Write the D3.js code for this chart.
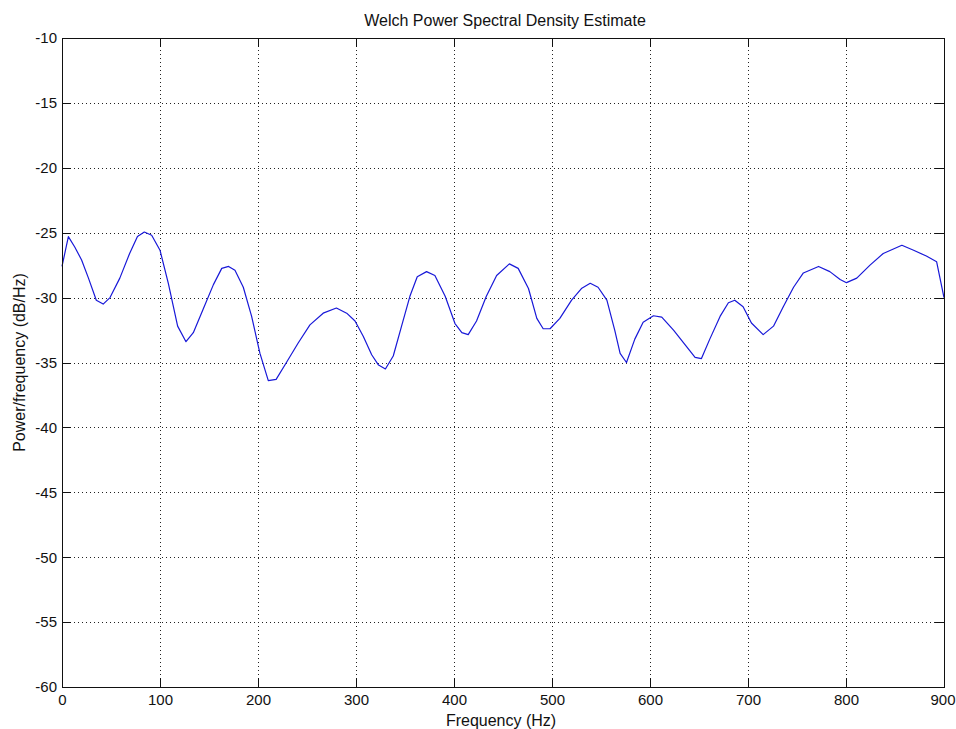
<!DOCTYPE html>
<html>
<head>
<meta charset="utf-8">
<script src="https://cdn.jsdelivr.net/npm/d3@7"></script>
<style>
  html, body { margin: 0; padding: 0; background: #fff; }
  svg { display: block; }
  text { font-family: "Liberation Sans", Arial, Helvetica, sans-serif; fill: #111; }
</style>
</head>
<body>
<svg id="chart" width="956" height="729"></svg>
<script>
// ---- data ----
const frequency = [0, 6.5, 13, 20, 27, 35, 42, 49, 59, 69, 77, 84, 91.5, 100, 108.5, 118, 126.5, 134, 144, 154.5,
  163, 170, 176.5, 185, 193.5, 202, 210.5, 218.5, 229, 241, 253, 266.5, 280, 290.5, 299, 307.5, 316, 323, 330, 338,
  346.5, 355, 362.5, 372, 380.5, 391, 401, 408, 414.5, 423, 433, 443.5, 456.5, 465.5, 476, 484.5, 491, 498, 508, 520,
  530, 539, 547, 556, 564, 569.5, 576, 584.5, 593, 603.5, 612, 624, 635.5, 646, 652.5, 661, 671.5, 680, 686.5, 695,
  703.5, 715.5, 726, 736, 746.5, 756.5, 772, 783.5, 794, 800.5, 811, 824.5, 838, 857, 869, 882, 892.5, 900];
const psd = [-27.6, -25.3, -26.1, -27.1, -28.5, -30.2, -30.5, -30.0, -28.5, -26.6, -25.3, -24.95, -25.2, -26.35, -28.9, -32.2, -33.4, -32.7, -30.9, -29.0,
  -27.75, -27.6, -27.9, -29.2, -31.45, -34.3, -36.4, -36.3, -35.0, -33.5, -32.1, -31.2, -30.8, -31.2, -31.8, -33.0, -34.4, -35.2, -35.5, -34.5,
  -32.2, -29.9, -28.4, -28.0, -28.3, -29.9, -32.0, -32.7, -32.85, -31.8, -29.9, -28.3, -27.4, -27.75, -29.3, -31.6, -32.4, -32.4, -31.6, -30.2,
  -29.3, -28.9, -29.2, -30.2, -32.5, -34.3, -35.0, -33.2, -31.9, -31.4, -31.5, -32.5, -33.6, -34.6, -34.7, -33.2, -31.45, -30.4, -30.2, -30.7,
  -31.96, -32.85, -32.2, -30.7, -29.2, -28.1, -27.6, -28.0, -28.6, -28.85, -28.5, -27.5, -26.6, -25.97, -26.35, -26.8, -27.24, -30.0];
const xTicks = [0, 100, 200, 300, 400, 500, 600, 700, 800, 900];
const yTicks = [-60, -55, -50, -45, -40, -35, -30, -25, -20, -15, -10];
const xDomain = [0, 900];
const yDomain = [-60, -10];
const titleText = "Welch Power Spectral Density Estimate";
const xLabel = "Frequency (Hz)";
const yLabel = "Power/frequency (dB/Hz)";

// ---- layout ----
const L = 62, R = 944, T = 38, B = 687;
const svg = d3.select("#chart");
const x = d3.scaleLinear().domain(xDomain).range([L, R]);
const y = d3.scaleLinear().domain(yDomain).range([B, T]);

const fontSize = 16;
const tickFont = 15;
const tickLen = 9;
const plainFormat = d => String(d);   // ASCII hyphen minus, as in the reference

// grid
const grid = svg.append("g").attr("stroke", "#222").attr("stroke-width", 1)
  .attr("stroke-dasharray", "1,3").attr("shape-rendering", "crispEdges");
xTicks.filter(d => d > xDomain[0] && d < xDomain[1]).forEach(d => {
  grid.append("line").attr("x1", Math.round(x(d)) + 0.5).attr("x2", Math.round(x(d)) + 0.5)
    .attr("y1", T).attr("y2", B);
});
yTicks.filter(d => d > yDomain[0] && d < yDomain[1]).forEach(d => {
  grid.append("line").attr("y1", Math.round(y(d)) + 0.5).attr("y2", Math.round(y(d)) + 0.5)
    .attr("x1", L).attr("x2", R);
});

// data line
const line = d3.line().x((d, i) => x(frequency[i])).y(d => y(d));
svg.append("path").datum(psd)
  .attr("d", line)
  .attr("fill", "none")
  .attr("stroke", "#1818d8")
  .attr("stroke-width", 1.2)
  .attr("stroke-linejoin", "round");

// axes (ticks inward)
function styleAxis(g) {
  g.attr("font-size", tickFont).attr("font-family", "'Liberation Sans', Arial, sans-serif");
  g.select(".domain").attr("stroke", "#111");
  g.selectAll(".tick line").attr("stroke", "#111");
  g.selectAll("text").attr("font-size", tickFont).attr("fill", "#111");
}
const xAxisB = d3.axisBottom(x).tickValues(xTicks).tickSize(-tickLen).tickSizeOuter(0).tickPadding(7).tickFormat(plainFormat);
const gxb = svg.append("g").attr("transform", `translate(0,${B})`).call(xAxisB).call(styleAxis)
  .attr("shape-rendering", "crispEdges");
// keep the last label inside the canvas, as in the reference
gxb.selectAll(".tick text").filter(d => d === xDomain[1]).attr("dx", -1.5);
const xAxisT = d3.axisTop(x).tickValues(xTicks).tickSize(-tickLen).tickSizeOuter(0).tickFormat("");
svg.append("g").attr("transform", `translate(0,${T})`).call(xAxisT).call(styleAxis)
  .attr("shape-rendering", "crispEdges");
const yAxisL = d3.axisLeft(y).tickValues(yTicks).tickSize(-tickLen).tickSizeOuter(0).tickPadding(5).tickFormat(plainFormat);
svg.append("g").attr("transform", `translate(${L},0)`).call(yAxisL).call(styleAxis)
  .attr("shape-rendering", "crispEdges");
const yAxisR = d3.axisRight(y).tickValues(yTicks).tickSize(-tickLen).tickSizeOuter(0).tickFormat("");
svg.append("g").attr("transform", `translate(${R},0)`).call(yAxisR).call(styleAxis)
  .attr("shape-rendering", "crispEdges");

// titles
svg.append("text").attr("x", (L + R) / 2 + 2).attr("y", 26).attr("text-anchor", "middle")
  .attr("font-size", fontSize).text(titleText);
svg.append("text").attr("x", (L + R) / 2 - 2).attr("y", 726).attr("text-anchor", "middle")
  .attr("font-size", fontSize).text(xLabel);
svg.append("text").attr("transform", `translate(25,${(T + B) / 2}) rotate(-90)`)
  .attr("text-anchor", "middle").attr("font-size", fontSize).text(yLabel);
</script>
</body>
</html>
